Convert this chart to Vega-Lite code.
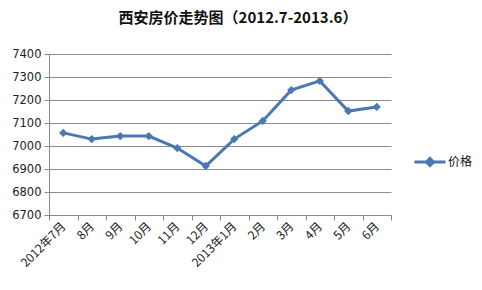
{
  "$schema": "https://vega.github.io/schema/vega-lite/v6.json",
  "autosize": {"type": "none"},
  "width": 342,
  "height": 161,
  "padding": {"left": 49, "top": 54, "right": 91, "bottom": 75},
  "background": "white",
  "title": {
    "text": "西安房价走势图（2012.7-2013.6）",
    "font": "Noto Sans CJK SC",
    "fontSize": 15,
    "fontWeight": "bold",
    "color": "#111",
    "anchor": "middle",
    "dx": 18,
    "offset": 22
  },
  "data": {
    "values": [
      {"month": "2012年7月", "series": "价格", "price": 7057},
      {"month": "8月", "series": "价格", "price": 7030},
      {"month": "9月", "series": "价格", "price": 7043},
      {"month": "10月", "series": "价格", "price": 7043},
      {"month": "11月", "series": "价格", "price": 6991},
      {"month": "12月", "series": "价格", "price": 6913},
      {"month": "2013年1月", "series": "价格", "price": 7030},
      {"month": "2月", "series": "价格", "price": 7109},
      {"month": "3月", "series": "价格", "price": 7243},
      {"month": "4月", "series": "价格", "price": 7283},
      {"month": "5月", "series": "价格", "price": 7152},
      {"month": "6月", "series": "价格", "price": 7170}
    ]
  },
  "encoding": {
    "x": {
      "field": "month",
      "type": "ordinal",
      "sort": null,
      "scale": {"type": "band", "paddingInner": 0, "paddingOuter": 0},
      "axis": {
        "title": null,
        "tickBand": "extent",
        "grid": false,
        "labelAngle": -45,
        "labelAlign": "right",
        "labelBaseline": "middle",
        "labelFont": "Noto Sans CJK SC",
        "labelFontSize": 12,
        "labelColor": "#222",
        "labelPadding": 4,
        "domainColor": "#888",
        "tickColor": "#888",
        "tickSize": 5
      }
    },
    "y": {
      "field": "price",
      "type": "quantitative",
      "scale": {"domain": [6700, 7400], "nice": false, "zero": false},
      "axis": {
        "title": null,
        "format": "d",
        "values": [6700, 6800, 6900, 7000, 7100, 7200, 7300, 7400],
        "grid": true,
        "gridColor": "#8c8c8c",
        "gridWidth": 1,
        "domainColor": "#8c8c8c",
        "tickColor": "#8c8c8c",
        "tickSize": 5,
        "labelFont": "DejaVu Sans",
        "labelFontSize": 11.5,
        "labelColor": "#222",
        "labelPadding": 3
      }
    },
    "color": {
      "field": "series",
      "type": "nominal",
      "scale": {"range": ["#4a78b3"]},
      "legend": {
        "title": null,
        "orient": "none",
        "legendX": 372,
        "legendY": 99,
        "symbolType": "M-2.2,0H2.2M0,-0.5L0.5,0L0,0.5L-0.5,0Z",
        "symbolSize": 200,
        "symbolStrokeWidth": 3,
        "symbolFillColor": "#4a78b3",
        "labelFont": "Noto Sans CJK SC",
        "labelFontSize": 12,
        "labelColor": "#111",
        "labelOffset": 9
      }
    }
  },
  "layer": [
    {"mark": {"type": "line", "strokeWidth": 3}},
    {"mark": {"type": "point", "shape": "diamond", "filled": true, "size": 70, "opacity": 1}}
  ],
  "config": {"view": {"stroke": null}}
}
